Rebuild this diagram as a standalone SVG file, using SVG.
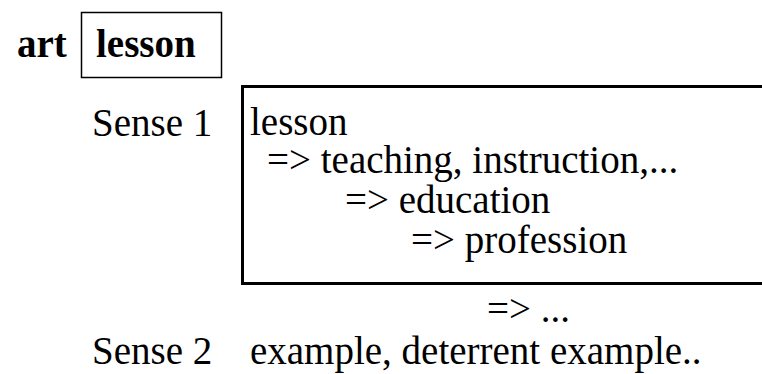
<svg xmlns="http://www.w3.org/2000/svg" width="762" height="374" viewBox="0 0 762 374">
<style>
text{font-family:"Liberation Serif","Times New Roman",serif;font-size:39px;fill:#000}
.b{font-weight:bold}
.box{fill:#fff;stroke:#000}
</style>
<rect width="762" height="374" fill="#fff"/>
<g id="header">
<text class="b" x="17" y="57">art</text>
<rect class="box" x="81.5" y="12.5" width="140" height="65" stroke-width="1.5"/>
<text class="b" x="96" y="57">lesson</text>
</g>
<g id="sense1">
<text x="92" y="136">Sense 1</text>
<rect class="box" x="242.5" y="86.5" width="540" height="197" stroke-width="3"/>
<text x="250" y="135">lesson</text>
<text x="267" y="173">=&gt; teaching, instruction,...</text>
<text x="345" y="213">=&gt; education</text>
<text x="411" y="253">=&gt; profession</text>
<text x="487" y="322">=&gt; ...</text>
</g>
<g id="sense2">
<text x="92" y="364">Sense 2</text>
<text x="250" y="364">example, deterrent example..</text>
</g>
<g id="connectors"/>
</svg>
